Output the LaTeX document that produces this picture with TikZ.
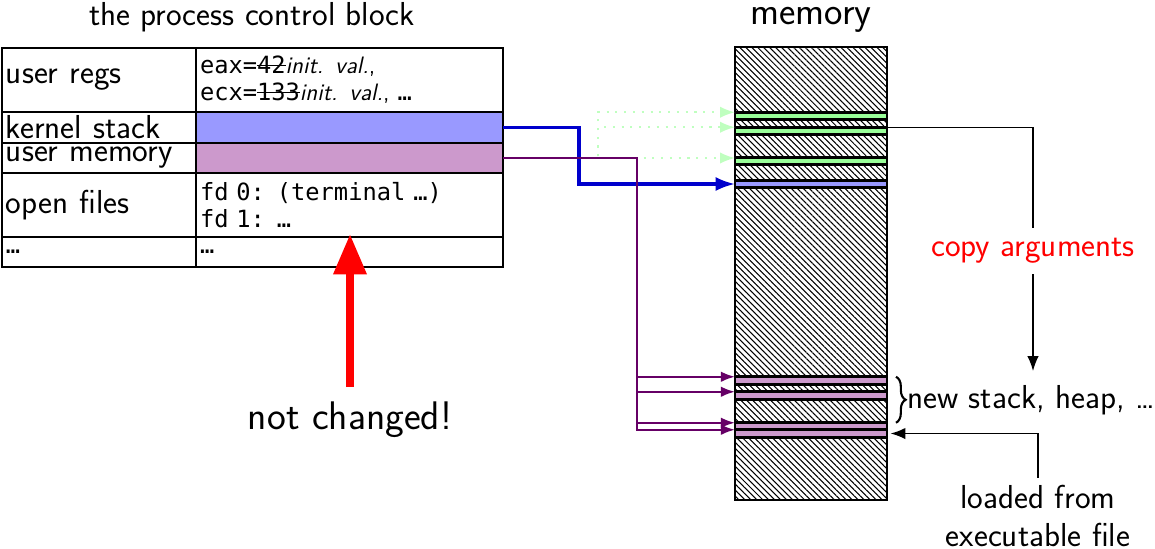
\documentclass[tikz,border=0pt]{standalone}
\usepackage{fontspec}
\setmonofont{DejaVu Sans Mono}
\renewcommand{\familydefault}{\sfdefault}
\usetikzlibrary{positioning}
\usetikzlibrary{patterns.meta}
\usetikzlibrary{arrows.meta}
\usetikzlibrary{decorations.pathreplacing}
\usetikzlibrary{calc}
\newdimen\px \px=0.02cm
\def\txt{\fontsize{18.9}{21.5}\selectfont}
\def\code{\fontsize{13.5}{15.3}\selectfont\ttfamily}
\def\lw{thick}
\newsavebox{\strkbox}
\newcommand{\strk}[1]{\sbox{\strkbox}{#1}\rlap{\rule[0.35em]{\wd\strkbox}{0.5pt}}\usebox{\strkbox}}
\tikzset{
cell/.style 2 args={draw, line width=0.8pt, inner xsep=4\px, inner ysep=0pt, outer sep=0pt,
	text width=#1, minimum height=#2, align=left, font=\txt},
memory/.style={draw, line width=1.6pt, pattern={Lines[angle=-45, distance=2.4pt, line width=0.6pt]},
	minimum width=152\px, minimum height=453\px, inner sep=0pt, outer sep=0pt},
band/.style={draw, line width=1.5pt, fill=#1, minimum width=152\px,
	minimum height=7.5\px, inner sep=0pt, outer sep=0pt},
kptr/.style={draw=blue!80!black, line width=1.8pt, -{Latex[length=11pt,width=8pt]}},
uptr/.style={draw=violet!80!black, line width=1.2pt, -{Latex[length=8pt,width=6pt]}},
aptr/.style={draw=green!25, line width=1.2pt, dash pattern=on 1.2pt off 3.8pt,
	-{Latex[length=8.5pt,width=6.5pt]}},
bptr/.style={\lw, -{Latex[length=8.5pt,width=6.5pt]}},
}
\begin{document}
\begin{tikzpicture}[x=0.02cm, y=-0.02cm]
\useasboundingbox (0,0) rectangle (1155,548);
%the process control block
\node[font=\txt, inner sep=1pt] (pcbtitle) at (252,17) {the process control block};
\node[cell={186\px}{64\px}, anchor=north west] (regs) at (2,48) {user regs};
\node[cell={299\px}{64\px}, right=0pt of regs, font=\code] (regsval)
	{eax=\strk{42}\textsf{\textit{init. val.},}\\ecx=\strk{133}\textsf{\textit{init. val.}, }…};
\node[cell={186\px}{31\px}, below=0pt of regs] (kst) {kernel stack};
\node[cell={299\px}{31\px}, right=0pt of kst, fill=blue!40] (kstval) {};
\node[cell={186\px}{30\px}, below=0pt of kst] (um) {user memory};
\node[cell={299\px}{30\px}, right=0pt of um, fill=violet!40] (umval) {};
\node[cell={186\px}{64\px}, below=0pt of um] (files) {open files};
\node[cell={299\px}{64\px}, right=0pt of files, font=\code] (filesval)
	{fd 0: (terminal …)\\fd 1: …};
\node[cell={186\px}{30\px}, below=0pt of files] (more) {{\code …}};
\node[cell={299\px}{30\px}, right=0pt of more, font=\code] (moreval) {…};

%memory
\node[font=\fontsize{22.2}{26}\selectfont, inner sep=1pt] (memtitle) at (811,20) {memory};
\node[memory] (mem) at (811,273.5) {};
\foreach \n/\y/\c in {arg1/116/green!40, arg2/131/green!40, arg3/161/green!40,
	kstk/184/blue!40, um1/380.5/violet!40, um2/395.5/violet!40,
	um3/426.5/violet!40, um4/433.5/violet!40}
	\node[band=\c] (\n) at (811,\y) {};

%
\foreach \b in {arg1, arg2}
	\draw[aptr] (umval.east) -- ++(95,0) |- (\b.north west);
\draw[aptr] (umval.east) -- (umval.east -| arg3.west);
\draw[kptr] (kstval.east) -- ++(76,0) |- (kstk.west);
\foreach \b in {um1, um2, um3, um4}
	\draw[uptr] (umval.east) -- ++(134,0) |- (\b.north west);

%
\draw[line width=1.2pt, decorate, decoration={brace, amplitude=5.5pt}]
	($(um1.north east)+(9,0)$) -- ($(um3.north east)+(9,0)$)
	node[midway, right=2.5pt, font=\txt] (newst) {new stack, heap, …};
\node[font=\txt, text=red, inner sep=6pt] (copy) at (1033,251) {copy arguments};
\draw[\lw] (arg2.north east) -| (copy.north);
\draw[bptr, shorten >=4pt] (copy.south) -- (copy.south |- newst.north);
\node[font=\txt, align=center, inner sep=1pt] (loaded) at (1038,516) {loaded from\\executable file};
\draw[bptr, shorten >=2pt, shorten <=3pt] (loaded.north) |- (um4.east);

%
\node[font=\fontsize{22.7}{26}\selectfont] (notch) at (350,420) {not changed!};
\draw[red, line width=4.5pt, -{Triangle[length=23pt,width=18pt]},
	shorten <=5pt, shorten >=-1.7pt]
	(notch.north) -- (notch.north |- moreval.north);
\end{tikzpicture}
\end{document}
